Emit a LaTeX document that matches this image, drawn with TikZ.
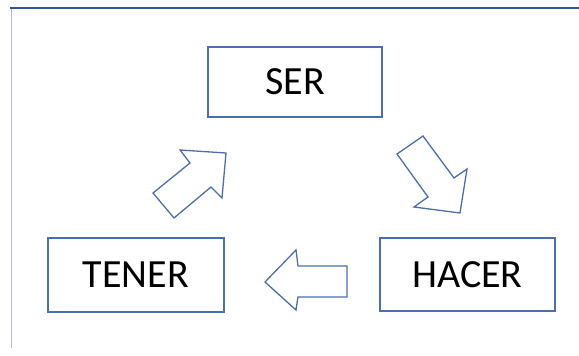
\documentclass[tikz,border=0pt]{standalone}
\usepackage{fontspec}
\setmainfont{Carlito}
\definecolor{boxblue}{HTML}{4A6FB0}
\definecolor{topblue}{HTML}{2F5597}
\definecolor{sidegray}{HTML}{B4BED2}
\begin{document}
\begin{tikzpicture}[x=1pt,y=-1pt,
  wordbox/.style={draw=boxblue,line width=1.1pt,fill=white,inner sep=0pt,font=\fontsize{40}{44}\selectfont,text=black},
  blockarrow/.style={draw=boxblue,line width=1.3pt,fill=white,line join=miter}]
\useasboundingbox (0,0) rectangle (579,356);
\draw[topblue,line width=2pt] (10,8) -- (579,8);
\draw[sidegray,line width=1pt] (11,9) -- (11,348);
\node[wordbox,minimum width=174pt,minimum height=70pt] (ser) at (295,82) {SER};
\node[wordbox,minimum width=176pt,minimum height=74pt] (tener) at (136,275) {TENER};
\node[wordbox,minimum width=175pt,minimum height=73pt] (hacer) at (467.5,274.5) {HACER};
% up-right arrow (TENER -> SER)
\draw[blockarrow] (153,193) -- (190,163) -- (180,150) -- (226,153) -- (222,198) -- (211,187) -- (174,218) -- cycle;
% down-right arrow (SER -> HACER)
\draw[blockarrow] (397,154) -- (423,136) -- (454,178) -- (467,169) -- (460,213) -- (414,207) -- (428,197) -- cycle;
% left arrow (HACER -> TENER)
\draw[blockarrow] (265,282) -- (296,250) -- (298,266) -- (347,266) -- (347,297) -- (298,297) -- (296,310) -- cycle;
\end{tikzpicture}
\end{document}
